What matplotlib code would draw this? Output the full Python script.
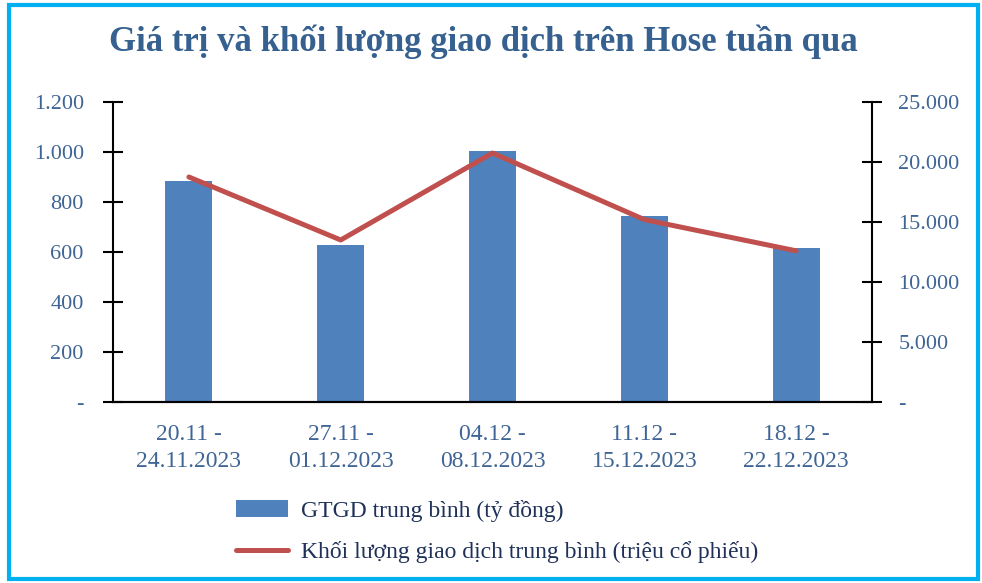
import matplotlib
matplotlib.use('Agg')
import matplotlib.pyplot as plt
from matplotlib.patches import Rectangle
from matplotlib.ticker import FuncFormatter

plt.rcParams['font.family'] = ['Liberation Serif', 'DejaVu Serif']

# dữ liệu
weeks = ['20.11 -\n24.11.2023', '27.11 -\n01.12.2023', '04.12 -\n08.12.2023',
         '11.12 -\n15.12.2023', '18.12 -\n22.12.2023']
gtgd = [884, 628, 1004, 744, 616]          # tỷ đồng
khoi_luong = [18750, 13500, 20750, 15200, 12600]  # triệu cổ phiếu

bar_color = '#4F81BD'
line_color = '#C0504D'
tick_color = '#3E6595'
title_color = '#35608F'
legend_color = '#1F3158'


def vn_fmt(v, pos):
    if abs(v) < 1e-9:
        return '-'
    return f'{v:,.0f}'.replace(',', '.')


fig = plt.figure(figsize=(9.82, 5.83), dpi=100)
ax = fig.add_axes([113 / 982, 1 - 402 / 583, (872 - 113) / 982, 300 / 583])
ax2 = ax.twinx()

x = list(range(len(weeks)))
ax.bar(x, gtgd, width=0.31, color=bar_color, zorder=2,
       label='GTGD trung bình (tỷ đồng)')
ax2.plot(x, khoi_luong, color=line_color, lw=3.6, solid_capstyle='round',
         label='Khối lượng giao dịch trung bình (triệu cổ phiếu)')

ax.set_xlim(-0.5, len(weeks) - 0.5)
ax.set_ylim(0, 1200)
ax.set_yticks(range(0, 1201, 200))
ax2.set_ylim(0, 25000)
ax2.set_yticks(range(0, 25001, 5000))
ax.yaxis.set_major_formatter(FuncFormatter(vn_fmt))
ax2.yaxis.set_major_formatter(FuncFormatter(vn_fmt))

ax.set_xticks(x)
ax.set_xticklabels(weeks, fontsize=17, color=tick_color, linespacing=1.35)
ax.tick_params(axis='x', length=0, pad=16)
ax.tick_params(axis='y', direction='inout', length=14, width=1.5,
               labelsize=16, labelcolor=tick_color, pad=14)
ax2.tick_params(axis='y', direction='inout', length=14, width=1.5,
                labelsize=16, labelcolor=tick_color, pad=12)

for a in (ax, ax2):
    a.spines['top'].set_visible(False)
    for s in ('left', 'right', 'bottom'):
        a.spines[s].set_linewidth(1.5)
        a.spines[s].set_color('black')
ax.spines['right'].set_visible(False)
ax2.spines['left'].set_visible(False)

fig.text(483 / 982, 1 - 42 / 583, 'Giá trị và khối lượng giao dịch trên Hose tuần qua',
         ha='center', va='center', fontsize=25, fontweight='bold', color=title_color)

h1, l1 = ax.get_legend_handles_labels()
h2, l2 = ax2.get_legend_handles_labels()
leg = fig.legend(h1 + h2, l1 + l2, loc='upper left',
                 bbox_to_anchor=(236 / 982, 1 - 500 / 583), frameon=False,
                 fontsize=17, handlelength=2.2, handletextpad=0.55,
                 labelspacing=0.8, borderpad=0, borderaxespad=0,
                 labelcolor=legend_color)

# khung viền
fig.patches.append(Rectangle((9 / 982, 4 / 583), 969 / 982, 574 / 583,
                             transform=fig.transFigure, fill=False,
                             edgecolor='#00B0F0', lw=3))

fig.savefig('out.png', dpi=100)
